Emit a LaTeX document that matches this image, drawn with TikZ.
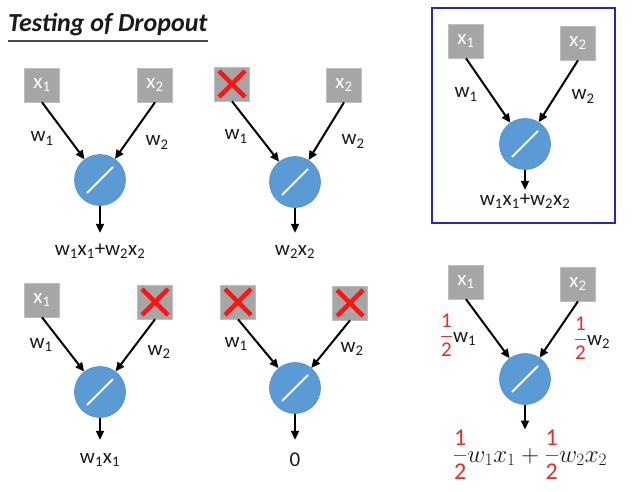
\documentclass[tikz,border=0pt]{standalone}
\usepackage{fontspec}
\setmainfont{Carlito}
\usepackage{amsmath}
\usetikzlibrary{arrows.meta}
\newcommand{\lblfont}{\fontsize{21}{25}\selectfont}
\newcommand{\ix}[1]{\textsubscript{#1}}
\newcommand{\half}{\textcolor{halfred}{\dfrac{\text{1}}{\text{2}}}}
\definecolor{unitgray}{HTML}{A6A6A6}
\definecolor{unitedge}{HTML}{BEBEBE}
\definecolor{neuronblue}{HTML}{5B9BD5}
\definecolor{neuronedge}{HTML}{4F8CC9}
\definecolor{dropred}{HTML}{FF1414}
\definecolor{halfred}{HTML}{F02A22}
\definecolor{frameblue}{HTML}{2424C8}
\definecolor{titlegray}{HTML}{4A4A4A}
\definecolor{labelink}{HTML}{1A1A1A}

\begin{document}
\begin{tikzpicture}[
  x=1pt,
  y=-1pt,
  every node/.style={font=\lblfont, labelink},
  unit/.style={rectangle, fill=unitgray, draw=unitedge, line width=0.6pt,
    minimum width=35pt, minimum height=34pt, inner sep=0pt, text=white},
  dropped/.style={unit, path picture={
    \draw[dropred, line width=4.5pt]
      ([shift={(-13pt,-13pt)}]path picture bounding box.center)
      -- ([shift={(13pt,13pt)}]path picture bounding box.center)
      ([shift={(-13pt,13pt)}]path picture bounding box.center)
      -- ([shift={(13pt,-13pt)}]path picture bounding box.center);}},
  neuron/.style={circle, fill=neuronblue, draw=neuronedge, line width=0.6pt,
    minimum size=51pt, inner sep=0pt, path picture={
    \draw[white, line width=2pt]
      ([shift={(-13pt,-13pt)}]path picture bounding box.center)
      -- ([shift={(13pt,13pt)}]path picture bounding box.center);}},
  wire/.style={line width=2pt, -{Triangle[length=9pt, width=8pt]}},
  weight/.style={anchor=base, inner sep=0pt},
  result/.style={anchor=base, inner sep=0pt, text height=12pt},
  frame/.style={frameblue, line width=2.4pt},
  titleline/.style={titlegray, line width=2.4pt}
]
  % ---- canvas ----------------------------------------------------------
  \fill[white] (0,0) rectangle (643,492);
  \path[use as bounding box] (0,0) rectangle (643,492);

  % ---- title -----------------------------------------------------------
  \node[anchor=base west, inner sep=0pt,
    font=\fontsize{26}{31}\selectfont\bfseries\itshape] (title) at (8,32)
    {Testing of Dropout};
  \draw[titleline] ([yshift=-9pt]title.base west) -- ([yshift=-9pt]title.base east);

  % ---- both inputs kept ------------------------------------------------
  \node[unit] (x11) at (42,85) {x\ix{1}};
  \node[unit] (x12) at (155,85) {x\ix{2}};
  \node[neuron] (n1) at (100,180) {};
  \node[weight] (w11) at (42,142) {w\ix{1}};
  \node[weight] (w12) at (157,146) {w\ix{2}};
  \node[result] (o1) at (100,255) {w\ix{1}x\ix{1}+w\ix{2}x\ix{2}};
  \draw[wire] (x11.south) -- (n1);
  \draw[wire] (x12.south) -- (n1);
  \draw[wire, shorten >=10pt] (n1) -- (n1 |- o1.north);

  % ---- x1 dropped ------------------------------------------------------
  \node[dropped] (x21) at (232,84) {};
  \node[unit] (x22) at (344,85) {x\ix{2}};
  \node[neuron] (n2) at (295,182) {};
  \node[weight] (w21) at (236,140) {w\ix{1}};
  \node[weight] (w22) at (353,145) {w\ix{2}};
  \node[result] (o2) at (295,255) {w\ix{2}x\ix{2}};
  \draw[wire] (x21.south) -- (n2);
  \draw[wire] (x22.south) -- (n2);
  \draw[wire, shorten >=10pt] (n2) -- (n2 |- o2.north);

  % ---- x2 dropped ------------------------------------------------------
  \node[unit] (x31) at (42,300) {x\ix{1}};
  \node[dropped] (x32) at (155,302) {};
  \node[neuron] (n3) at (100,392) {};
  \node[weight] (w31) at (41,348) {w\ix{1}};
  \node[weight] (w32) at (159,355) {w\ix{2}};
  \node[result] (o3) at (100,463) {w\ix{1}x\ix{1}};
  \draw[wire] (x31.south) -- (n3);
  \draw[wire] (x32.south) -- (n3);
  \draw[wire, shorten >=11pt] (n3) -- (n3 |- o3.north);

  % ---- both dropped ----------------------------------------------------
  \node[dropped] (x41) at (238,302) {};
  \node[dropped] (x42) at (350,303) {};
  \node[neuron] (n4) at (295,388) {};
  \node[weight] (w41) at (236,347) {w\ix{1}};
  \node[weight] (w42) at (352,352) {w\ix{2}};
  \node[result] (o4) at (295,466) {0};
  \draw[wire] (x41.south) -- (n4);
  \draw[wire] (x42.south) -- (n4);
  \draw[wire, shorten >=14pt] (n4) -- (n4 |- o4.north);

  % ---- testing: the framed unit ----------------------------------------
  \draw[frame] (432,8) rectangle (615,223);
  \node[unit] (x51) at (466,41) {x\ix{1}};
  \node[unit] (x52) at (578,43) {x\ix{2}};
  \node[neuron] (n5) at (525,144) {};
  \node[weight] (w51) at (466,98) {w\ix{1}};
  \node[weight] (w52) at (583,100) {w\ix{2}};
  \node[result] (o5) at (525,205) {w\ix{1}x\ix{1}+w\ix{2}x\ix{2}};
  \draw[wire] (x51.south) -- (n5);
  \draw[wire] (x52.south) -- (n5);
  \draw[wire, shorten >=3pt] (n5) -- (n5 |- o5.north);

  % ---- testing: weights times 1/2 --------------------------------------
  \node[unit] (x61) at (466,282) {x\ix{1}};
  \node[unit] (x62) at (578,284) {x\ix{2}};
  \node[neuron] (n6) at (525,379) {};
  \node[weight] (w61) at (458,342) {$\half$w\ix{1}};
  \node[weight] (w62) at (592,345) {$\half$w\ix{2}};
  \node[anchor=base, inner sep=0pt, font=\fontsize{24}{28}\selectfont] (o6)
    at (530,462) {$\displaystyle\half w_1x_1+\half w_2x_2$};
  \draw[wire] (x61.south) -- (n6);
  \draw[wire] (x62.south) -- (n6);
  \draw[wire] (n6) -- (n6 |- o6.north);
\end{tikzpicture}
\end{document}
